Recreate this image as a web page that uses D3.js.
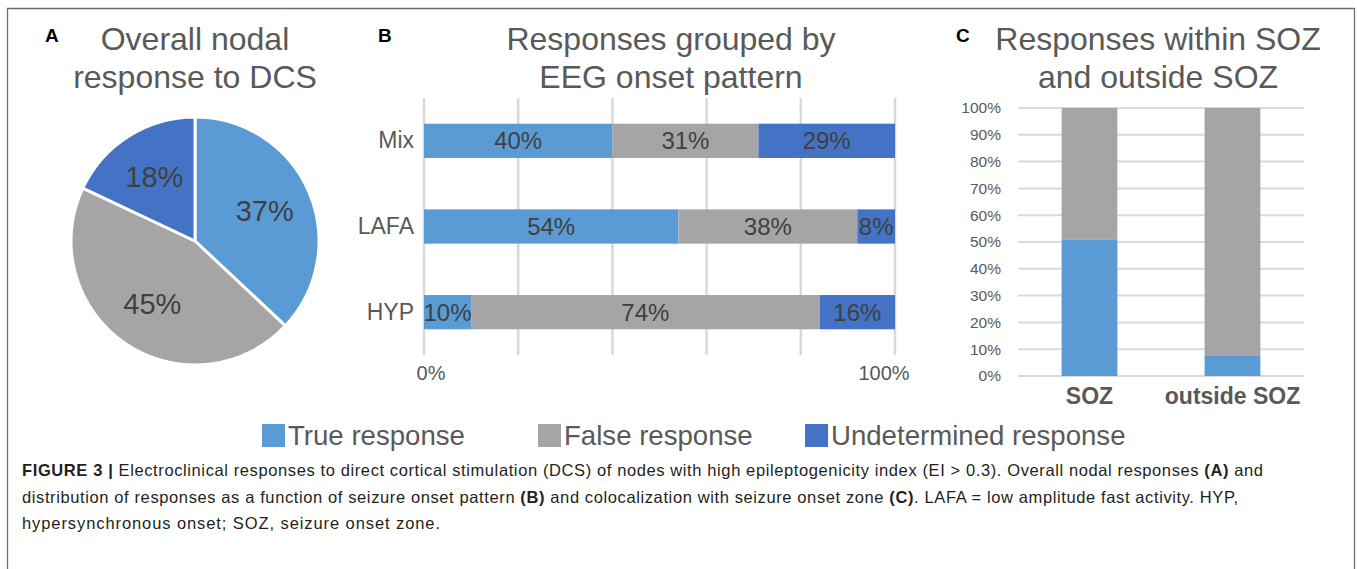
<!DOCTYPE html>
<html>
<head>
<meta charset="utf-8">
<script src="https://cdn.jsdelivr.net/npm/d3@7"></script>
<style>
html,body{margin:0;padding:0;background:#fff;}
svg{display:block;font-family:"Liberation Sans",Arial,sans-serif;}
</style>
</head>
<body>
<svg id="chart" width="1357" height="569"></svg>
<script>
// ---- data ----
const seriesNames = ["True response", "False response", "Undetermined response"];
const seriesColors = ["#5B9BD5", "#A5A5A5", "#4472C4"];

// Panel A
const pieValues = [37, 45, 18];

// Panel B
const onsetCategories = ["Mix", "LAFA", "HYP"];
const onsetTrue = [40, 54, 10];
const onsetFalse = [31, 38, 74];
const onsetUndetermined = [29, 8, 16];
const onsetTickLabels = ["0%", "100%"];

// Panel C
const sozCategories = ["SOZ", "outside SOZ"];
const sozTrue = [51, 7.5];
const sozFalse = [49, 92.5];
const sozTicks = [0, 10, 20, 30, 40, 50, 60, 70, 80, 90, 100];

const svg = d3.select("#chart");
const titleColor = "#595959";
const labelColor = "#404040";

// outer frame
svg.append("path").attr("d", "M7.5,600 V8.5 H1354.5 V600")
  .attr("fill", "none").attr("stroke", "#6d6d6d").attr("stroke-width", 1.3);

function panelLetter(txt, x) {
  svg.append("text").attr("x", x).attr("y", 42).text(txt)
    .attr("font-weight", "bold").attr("font-size", 19).attr("fill", "#000");
}
function title(lines, cx) {
  lines.forEach((l, i) => {
    svg.append("text").attr("x", cx).attr("y", 50 + i * 38).text(l)
      .attr("text-anchor", "middle").attr("font-size", 32).attr("fill", titleColor);
  });
}

// ---- Panel A: pie ----
panelLetter("A", 45);
title(["Overall nodal", "response to DCS"], 195);
const pieG = svg.append("g").attr("transform", "translate(195,241)");
const pie = d3.pie().sort(null).value(d => d);
const arcs = pie(pieValues);
const arc = d3.arc().innerRadius(0).outerRadius(124);
const labelArc = d3.arc().innerRadius(76).outerRadius(76);
pieG.selectAll("path.slice").data(arcs).join("path").attr("class", "slice")
  .attr("d", arc).attr("fill", (d, i) => seriesColors[i])
  .attr("stroke", "#fff").attr("stroke-width", 3).attr("stroke-linejoin", "round");
pieG.selectAll("text.pl").data(arcs).join("text").attr("class", "pl")
  .attr("transform", d => `translate(${labelArc.centroid(d)})`)
  .attr("text-anchor", "middle").attr("dominant-baseline", "central")
  .attr("font-size", 29).attr("fill", labelColor)
  .text(d => d.data + "%");

// ---- Panel B: horizontal stacked bars ----
panelLetter("B", 378);
title(["Responses grouped by", "EEG onset pattern"], 671);
const xB = d3.scaleLinear().domain([0, 100]).range([424, 895]);
const yB = d3.scaleBand().domain(onsetCategories).range([98, 355]).paddingInner(0.6).paddingOuter(0.3);
const gB = svg.append("g");
gB.selectAll("line.grid").data(d3.range(0, 101, 20)).join("line").attr("class", "grid")
  .attr("x1", d => xB(d)).attr("x2", d => xB(d)).attr("y1", 98).attr("y2", 355)
  .attr("stroke", "#d9d9d9").attr("stroke-width", 2.5);
const stackB = d3.stack().keys([0, 1, 2])(onsetCategories.map((c, i) => ({
  cat: c, 0: onsetTrue[i], 1: onsetFalse[i], 2: onsetUndetermined[i]
})));
stackB.forEach((layer, k) => {
  gB.selectAll("rect.s" + k).data(layer).join("rect").attr("class", "s" + k)
    .attr("x", d => xB(d[0])).attr("width", d => xB(d[1]) - xB(d[0]))
    .attr("y", d => yB(d.data.cat)).attr("height", yB.bandwidth())
    .attr("fill", seriesColors[k]);
  gB.selectAll("text.t" + k).data(layer).join("text").attr("class", "t" + k)
    .attr("x", d => (xB(d[0]) + xB(d[1])) / 2)
    .attr("y", d => yB(d.data.cat) + yB.bandwidth() / 2)
    .attr("text-anchor", "middle").attr("dominant-baseline", "central")
    .attr("font-size", 24).attr("fill", labelColor)
    .text(d => (d[1] - d[0]) + "%");
});
const axL = d3.axisLeft(yB).tickSize(0).tickPadding(10);
const gAxL = svg.append("g").attr("transform", "translate(414,0)").call(axL);
gAxL.select(".domain").remove();
gAxL.selectAll("text").attr("font-size", 23).attr("fill", titleColor)
  .attr("font-family", "Liberation Sans, Arial, sans-serif").attr("dx", 10);
svg.append("text").attr("x", xB(0) + 7).attr("y", 380).attr("text-anchor", "middle")
  .attr("font-size", 20).attr("fill", titleColor).text(onsetTickLabels[0]);
svg.append("text").attr("x", xB(100) - 11).attr("y", 380).attr("text-anchor", "middle")
  .attr("font-size", 20).attr("fill", titleColor).text(onsetTickLabels[1]);

// ---- Panel C: vertical stacked bars ----
panelLetter("C", 956);
title(["Responses within SOZ", "and outside SOZ"], 1158);
const xC = d3.scaleBand().domain(sozCategories).range([1018, 1304]).paddingInner(0.61).paddingOuter(0.305);
const yC = d3.scaleLinear().domain([0, 100]).range([376, 108]);
const gC = svg.append("g");
gC.selectAll("line.grid").data(sozTicks).join("line").attr("class", "grid")
  .attr("x1", 1018).attr("x2", 1304).attr("y1", d => yC(d)).attr("y2", d => yC(d))
  .attr("stroke", "#d9d9d9").attr("stroke-width", 2);
const stackC = d3.stack().keys([0, 1])(sozCategories.map((c, i) => ({cat: c, 0: sozTrue[i], 1: sozFalse[i]})));
stackC.forEach((layer, k) => {
  gC.selectAll("rect.s" + k).data(layer).join("rect").attr("class", "s" + k)
    .attr("x", d => xC(d.data.cat)).attr("width", xC.bandwidth())
    .attr("y", d => yC(d[1])).attr("height", d => yC(d[0]) - yC(d[1]))
    .attr("fill", seriesColors[k]);
});
const axCY = d3.axisLeft(yC).tickValues(sozTicks).tickFormat(d => d + "%").tickSize(0).tickPadding(0);
const gAxCY = svg.append("g").attr("transform", "translate(1001,0)").call(axCY);
gAxCY.select(".domain").remove();
gAxCY.selectAll("text").attr("font-size", 15.5).attr("fill", titleColor)
  .attr("font-family", "Liberation Sans, Arial, sans-serif");
const axCX = d3.axisBottom(xC).tickSize(0).tickPadding(0);
const gAxCX = svg.append("g").attr("transform", "translate(0,388)").call(axCX);
gAxCX.select(".domain").remove();
gAxCX.selectAll("text").attr("font-size", 23).attr("font-weight", "bold").attr("fill", titleColor)
  .attr("font-family", "Liberation Sans, Arial, sans-serif");

// ---- Legend ----
const legendX = [262, 538, 805];
const lg = svg.append("g");
seriesNames.forEach((n, i) => {
  lg.append("rect").attr("x", legendX[i]).attr("y", 424).attr("width", 23).attr("height", 23)
    .attr("fill", seriesColors[i]);
  lg.append("text").attr("x", legendX[i] + 26).attr("y", 445).text(n)
    .attr("font-size", 27.6).attr("fill", titleColor);
});

// ---- Caption ----
const captionLines = [
  [["FIGURE 3 | ", true], ["Electroclinical responses to direct cortical stimulation (DCS) of nodes with high epileptogenicity index (EI > 0.3). Overall nodal responses ", false], ["(A)", true], [" and", false]],
  [["distribution of responses as a function of seizure onset pattern ", false], ["(B)", true], [" and colocalization with seizure onset zone ", false], ["(C)", true], [". LAFA = low amplitude fast activity. HYP,", false]],
  [["hypersynchronous onset; SOZ, seizure onset zone.", false]]
];
const captionWidths = [1241, 1216, 418];
captionLines.forEach((parts, i) => {
  const t = svg.append("text").attr("x", 22).attr("y", 476 + i * 26.5)
    .attr("font-size", 16.5).attr("fill", "#231f20").attr("xml:space", "preserve")
    .attr("textLength", captionWidths[i]).attr("lengthAdjust", "spacing");
  parts.forEach(p => t.append("tspan").text(p[0]).attr("font-weight", p[1] ? "bold" : "normal"));
});
</script>
</body>
</html>
